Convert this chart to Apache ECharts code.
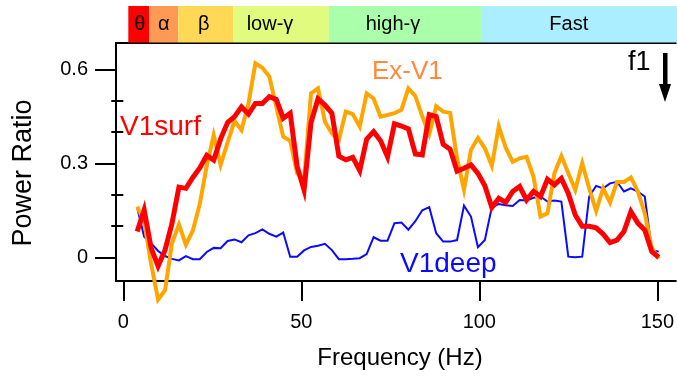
<!DOCTYPE html>
<html>
<head>
<meta charset="utf-8">
<script src="https://cdn.jsdelivr.net/npm/echarts@6/dist/echarts.min.js"></script>
<style>
  html, body { margin: 0; padding: 0; background: #ffffff; }
  #chart { width: 677px; height: 381px; }
</style>
</head>
<body>
<div id="chart"></div>
<script>
// Frequency bins (Hz), spacing 1000/512 Hz
const freqHz = [
  3.91, 5.86, 7.81, 9.77, 11.72, 13.67, 15.63, 17.58, 19.53, 21.48,
  23.44, 25.39, 27.34, 29.30, 31.25, 33.20, 35.16, 37.11, 39.06, 41.02,
  42.97, 44.92, 46.88, 48.83, 50.78, 52.73, 54.69, 56.64, 58.59, 60.55,
  62.50, 64.45, 66.41, 68.36, 70.31, 72.27, 74.22, 76.17, 78.13, 80.08,
  82.03, 83.98, 85.94, 87.89, 89.84, 91.80, 93.75, 95.70, 97.66, 99.61,
  101.56, 103.52, 105.47, 107.42, 109.38, 111.33, 113.28, 115.23, 117.19, 119.14,
  121.09, 123.05, 125.00, 126.95, 128.91, 130.86, 132.81, 134.77, 136.72, 138.67,
  140.63, 142.58, 144.53, 146.48, 148.44, 150.39
];

// Power ratio per bin
const v1surf = [
  0.082, 0.151, 0.030, -0.028, 0.023, 0.108, 0.224, 0.220, 0.255, 0.285,
  0.325, 0.310, 0.378, 0.430, 0.449, 0.480, 0.457, 0.491, 0.491, 0.513,
  0.504, 0.444, 0.460, 0.290, 0.215, 0.430, 0.506, 0.486, 0.460, 0.323,
  0.311, 0.319, 0.277, 0.377, 0.401, 0.372, 0.321, 0.426, 0.419, 0.410,
  0.330, 0.327, 0.455, 0.449, 0.361, 0.345, 0.275, 0.284, 0.295, 0.268,
  0.228, 0.159, 0.188, 0.175, 0.210, 0.226, 0.183, 0.210, 0.194, 0.249,
  0.231, 0.252, 0.204, 0.135, 0.099, 0.099, 0.094, 0.074, 0.047, 0.055,
  0.082, 0.146, 0.109, 0.087, 0.018, 0.000
];

const exV1 = [
  0.162, 0.115, -0.020, -0.135, -0.105, 0.045, 0.105, 0.040, 0.085, 0.170,
  0.292, 0.390, 0.295, 0.367, 0.435, 0.406, 0.491, 0.619, 0.605, 0.577,
  0.481, 0.385, 0.372, 0.268, 0.247, 0.523, 0.539, 0.433, 0.395, 0.375,
  0.465, 0.457, 0.417, 0.523, 0.507, 0.449, 0.454, 0.460, 0.471, 0.539,
  0.515, 0.450, 0.393, 0.482, 0.465, 0.461, 0.316, 0.216, 0.343, 0.381,
  0.348, 0.292, 0.418, 0.350, 0.305, 0.316, 0.321, 0.257, 0.130, 0.140,
  0.268, 0.323, 0.268, 0.215, 0.300, 0.220, 0.148, 0.220, 0.175, 0.240,
  0.240, 0.255, 0.210, 0.140, 0.030, -0.005
];

const v1deep = [
  0.158, 0.066, 0.045, 0.020, 0.004, -0.005, -0.010, 0.004, -0.006, -0.006,
  0.017, 0.030, 0.029, 0.052, 0.057, 0.048, 0.070, 0.077, 0.089, 0.075,
  0.066, 0.079, 0.002, 0.002, 0.022, 0.033, 0.037, 0.043, 0.023, -0.006,
  -0.006, -0.005, -0.003, 0.010, 0.064, 0.053, 0.053, 0.109, 0.111, 0.088,
  0.115, 0.150, 0.160, 0.077, 0.050, 0.050, 0.055, 0.165, 0.130, 0.032,
  0.055, 0.160, 0.170, 0.166, 0.164, 0.183, 0.181, 0.190, 0.194, 0.178,
  0.181, 0.178, 0.002, 0.000, 0.002, 0.194, 0.228, 0.220, 0.236, 0.241,
  0.210, 0.220, 0.210, 0.194, 0.023, 0.018
];

// Frequency bands shown above the plot
const bandNames = ['θ', 'α', 'β', 'low-γ', 'high-γ', 'Fast'];
const bandEdgesHz = [1.4, 7.3, 15.4, 30.8, 57.6, 100.3, 150];

// Axis ticks
const xTicks = [0, 50, 100, 150];
const yTicks = [0, 0.3, 0.6];
const yMinorTicks = [0.1, 0.2, 0.4, 0.5];

// ---- styling ----
const FONT = "'Liberation Sans', Arial, Helvetica, sans-serif";
const bandFill = ['#ff0000', '#ff9a55', '#ffd955', '#e0fb7e', '#aaffaa', '#aaeeff'];
const bandLabelNudge = [1, 0, -2, -11, -12, -1];   // px shift of each band caption
const X_MIN = -2.05, X_MAX = 155.2;
const Y_MIN = -0.0757, Y_MAX = 0.684;
const GRID = { left: 116, right: 0, top: 43, height: 238 };

const pairs = vals => freqHz.map((f, i) => [f, vals[i]]);
const bandData = bandNames.map((n, i) => [bandEdgesHz[i], bandEdgesHz[i + 1], i]);

const chart = echarts.init(document.getElementById('chart'), null, { renderer: 'canvas' });

chart.setOption({
  animation: false,
  backgroundColor: '#ffffff',
  textStyle: { fontFamily: FONT },
  grid: [
    Object.assign({ containLabel: false }, GRID),
    { left: GRID.left, right: 0, top: 6, height: 36.5, containLabel: false }
  ],
  xAxis: [
    {
      type: 'value', gridIndex: 0, min: X_MIN, max: X_MAX, position: 'bottom',
      axisLine: { show: true, onZero: false, lineStyle: { color: '#000', width: 2 } },
      axisTick: { show: true, inside: false, length: 20, customValues: xTicks,
                  lineStyle: { color: '#000', width: 2 } },
      axisLabel: { show: true, customValues: xTicks, margin: 31, color: '#000',
                   fontSize: 20, fontFamily: FONT },
      splitLine: { show: false }
    },
    {
      type: 'value', gridIndex: 0, min: X_MIN, max: X_MAX, position: 'top',
      axisLine: { show: true, onZero: false, lineStyle: { color: '#000', width: 2 } },
      axisTick: { show: false }, axisLabel: { show: false }, splitLine: { show: false }
    },
    {
      type: 'value', gridIndex: 1, min: X_MIN, max: X_MAX, show: false
    }
  ],
  yAxis: [
    {
      type: 'value', gridIndex: 0, min: Y_MIN, max: Y_MAX, position: 'left',
      axisLine: { show: true, onZero: false, lineStyle: { color: '#000', width: 2 } },
      axisTick: { show: true, inside: false, length: 21, customValues: yTicks,
                  lineStyle: { color: '#000', width: 2 } },
      axisLabel: { show: true, customValues: yTicks, margin: 28, color: '#000',
                   fontSize: 20, fontFamily: FONT },
      splitLine: { show: false }
    },
    {
      type: 'value', gridIndex: 0, min: Y_MIN, max: Y_MAX, position: 'left',
      axisLine: { show: false },
      axisTick: { show: true, inside: false, length: 12, customValues: yMinorTicks,
                  lineStyle: { color: '#000', width: 2 } },
      axisLabel: { show: false }, splitLine: { show: false }
    },
    {
      type: 'value', gridIndex: 1, min: 0, max: 1, show: false
    }
  ],
  series: [
    {
      name: 'V1deep', type: 'line', xAxisIndex: 0, yAxisIndex: 0,
      data: pairs(v1deep), showSymbol: false, clip: false, z: 2,
      lineStyle: { color: '#0a0aff', width: 2, join: 'miter' }
    },
    {
      name: 'Ex-V1', type: 'line', xAxisIndex: 0, yAxisIndex: 0,
      data: pairs(exV1), showSymbol: false, clip: false, z: 3,
      lineStyle: { color: '#ffa500', width: 4, join: 'miter' }
    },
    {
      name: 'V1surf', type: 'line', xAxisIndex: 0, yAxisIndex: 0,
      data: pairs(v1surf), showSymbol: false, clip: false, z: 4,
      lineStyle: { color: '#ff0000', width: 5, join: 'miter' }
    },
    {
      name: 'bands', type: 'custom', xAxisIndex: 2, yAxisIndex: 2,
      data: bandData, clip: false,
      renderItem(params, api) {
        const i = api.value(2);
        const a = api.coord([api.value(0), 0]);
        const b = api.coord([api.value(1), 1]);
        const last = i === bandNames.length - 1;
        const cs = params.coordSys;
        const right = last ? cs.x + cs.width : b[0];
        return {
          type: 'group',
          children: [
            { type: 'rect', shape: { x: a[0], y: b[1], width: right - a[0], height: a[1] - b[1] },
              style: { fill: bandFill[i] } },
            { type: 'text', style: { text: bandNames[i],
              x: (a[0] + b[0]) / 2 + bandLabelNudge[i], y: (a[1] + b[1]) / 2,
              align: 'center', verticalAlign: 'middle', fill: '#000',
              font: '20px ' + FONT } }
          ]
        };
      }
    }
  ],
  graphic: [
    { type: 'text', left: 120, top: 113, style: { text: 'V1surf', fill: '#ff0000', font: '28px ' + FONT } },
    { type: 'text', left: 372, top: 59, style: { text: 'Ex-V1', fill: '#ff8a3d', font: '26px ' + FONT } },
    { type: 'text', left: 400, top: 250, style: { text: 'V1deep', fill: '#0a0aff', font: '28px ' + FONT } },
    { type: 'text', left: 628, top: 49, style: { text: 'f1', fill: '#000', font: '27px ' + FONT } },
    { type: 'rect', shape: { x: 663, y: 53, width: 4.5, height: 32 }, style: { fill: '#000' } },
    { type: 'polygon', shape: { points: [[659, 84], [671, 84], [665, 102]] }, style: { fill: '#000' } },
    { type: 'text', x: 24, y: 173, rotation: Math.PI / 2,
      style: { text: 'Power Ratio', fill: '#000', font: '27px ' + FONT, align: 'center', verticalAlign: 'middle' } },
    { type: 'text', x: 400, y: 358,
      style: { text: 'Frequency (Hz)', fill: '#000', font: '24px ' + FONT, align: 'center', verticalAlign: 'middle' } }
  ]
});
</script>
</body>
</html>
